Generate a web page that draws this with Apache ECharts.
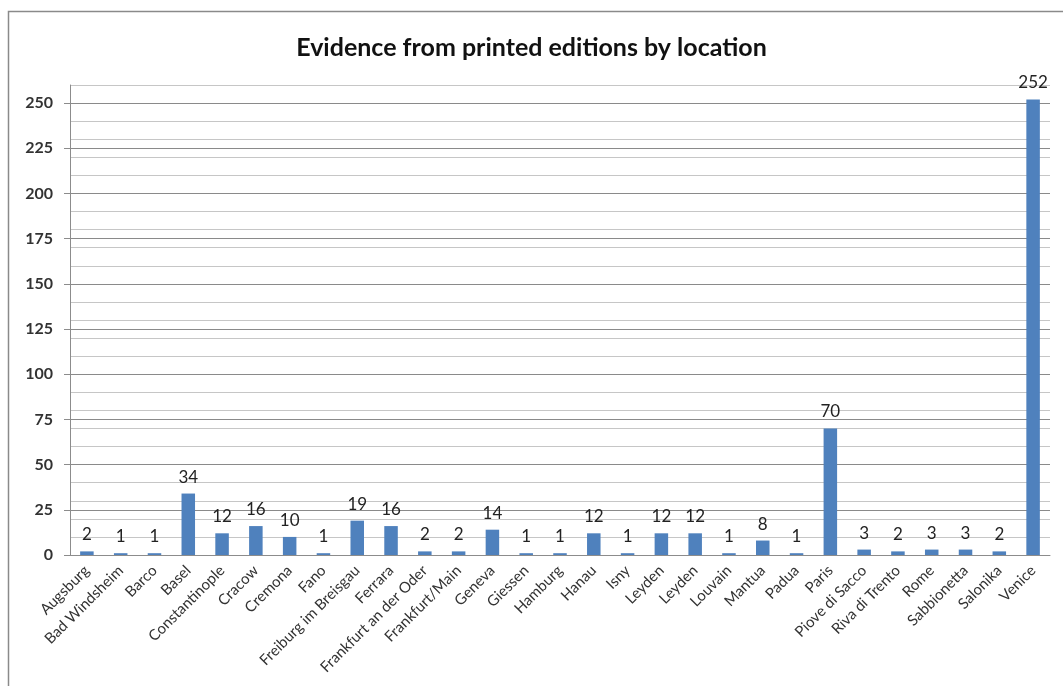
<!DOCTYPE html>
<html>
<head>
<meta charset="utf-8">
<title>Evidence from printed editions by location</title>
<script src="https://cdn.jsdelivr.net/npm/echarts@6/dist/echarts.min.js"></script>
<style>
  html, body { margin: 0; padding: 0; background: #fff; }
  #chart { width: 1063px; height: 686px; }
</style>
</head>
<body>
<div id="chart"></div>
<script>
const locations = [
  "Augsburg", "Bad Windsheim", "Barco", "Basel", "Constantinople", "Cracow",
  "Cremona", "Fano", "Freiburg im Breisgau", "Ferrara", "Frankfurt an der Oder",
  "Frankfurt/Main", "Geneva", "Giessen", "Hamburg", "Hanau", "Isny", "Leyden",
  "Leyden", "Louvain", "Mantua", "Padua", "Paris", "Piove di Sacco",
  "Riva di Trento", "Rome", "Sabbionetta", "Salonika", "Venice"
];
const editions = [
  2, 1, 1, 34, 12, 16,
  10, 1, 19, 16, 2,
  2, 14, 1, 1, 12, 1, 12,
  12, 1, 8, 1, 70, 3,
  2, 3, 3, 2, 252
];

const chart = echarts.init(document.getElementById("chart"));

const option = {
  animation: false,
  textStyle: { fontFamily: "Lato, 'Open Sans', sans-serif" },
  title: {
    text: "Evidence from printed editions by location",
    left: "center",
    top: 30,
    textStyle: { fontSize: 25, fontWeight: "bold", color: "#111" }
  },
  graphic: [{
    type: "rect",
    shape: { x: 8.5, y: 11.5, width: 1100, height: 800 },
    style: { fill: "none", stroke: "#8a8a8a", lineWidth: 1.5 },
    silent: true
  }],
  grid: { left: 70, right: 13, top: 85, bottom: 131 },
  xAxis: {
    type: "category",
    data: locations,
    axisLine: { lineStyle: { color: "#8c8c8c" } },
    axisTick: { length: 5, lineStyle: { color: "#8c8c8c" } },
    axisLabel: {
      interval: 0,
      rotate: 45,
      fontSize: 15,
      color: "#333",
      margin: 13
    }
  },
  yAxis: [
    {
      // minor gridlines every 10
      type: "value",
      min: 0,
      max: 260,
      interval: 10,
      axisLabel: { show: false },
      axisLine: { show: false },
      axisTick: { show: false },
      splitLine: { lineStyle: { color: "#c6c6c6" } }
    },
    {
      type: "value",
      position: "left",
      min: 0,
      max: 260,
      interval: 25,
      axisLabel: {
        fontSize: 16,
        fontWeight: "bold",
        color: "#333",
        margin: 17,
        showMaxLabel: false
      },
      axisLine: { show: true, lineStyle: { color: "#8c8c8c" } },
      axisTick: { show: true, length: 6, lineStyle: { color: "#8c8c8c" } },
      splitLine: { showMaxLine: false, lineStyle: { color: "#8a8a8a" } }
    }
  ],
  series: [{
    type: "bar",
    yAxisIndex: 1,
    data: editions,
    barWidth: "40%",
    itemStyle: { color: "#4F81BD" },
    label: {
      show: true,
      position: "top",
      distance: 8,
      fontSize: 17,
      color: "#222"
    }
  }]
};

chart.setOption(option);
window.addEventListener("resize", () => chart.resize());
</script>
</body>
</html>
